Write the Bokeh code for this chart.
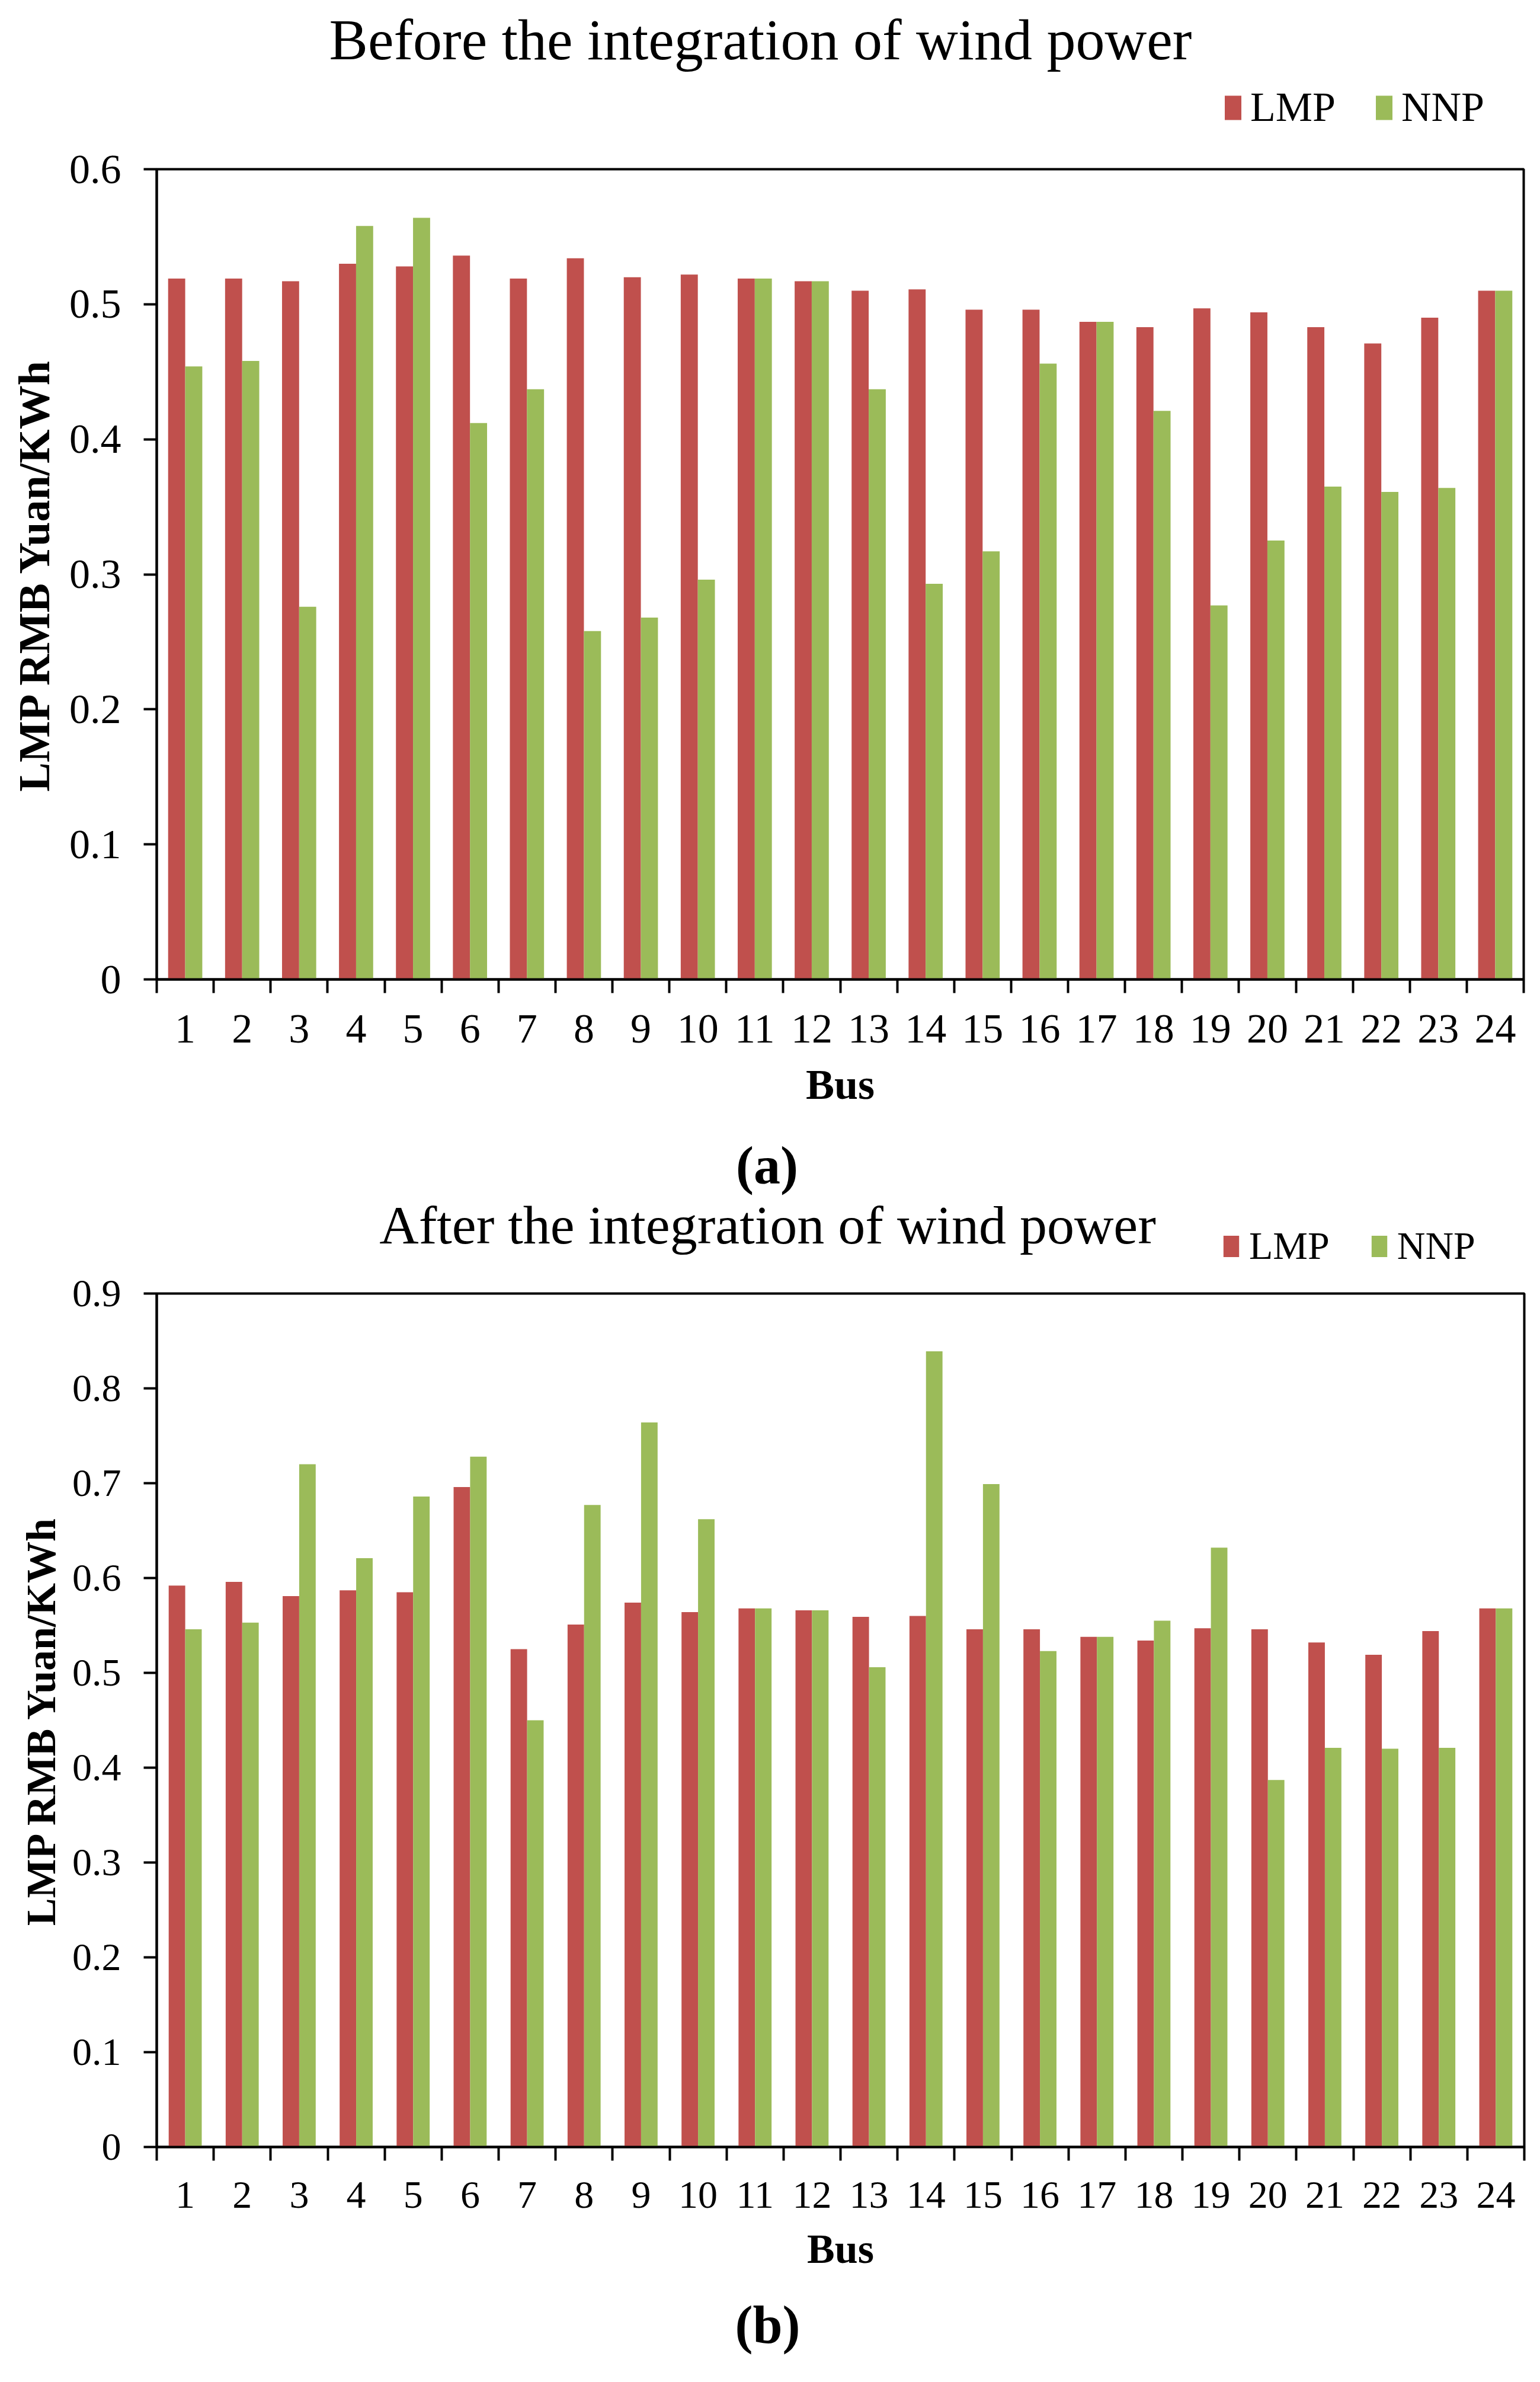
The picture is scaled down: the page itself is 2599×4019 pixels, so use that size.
from bokeh.plotting import figure
from bokeh.models import (Range1d, FixedTicker, Legend, LegendItem,
                          ColumnDataSource, Label)
from bokeh.transform import dodge
from bokeh.layouts import column
from bokeh.embed import file_html
from bokeh.resources import INLINE

# ---------------- data ----------------
buses = list(range(1, 25))

lmp_before = [0.519, 0.519, 0.517, 0.530, 0.528, 0.536, 0.519, 0.534, 0.520, 0.522,
              0.519, 0.517, 0.510, 0.511, 0.496, 0.496, 0.487, 0.483, 0.497, 0.494,
              0.483, 0.471, 0.490, 0.510]
nnp_before = [0.454, 0.458, 0.276, 0.558, 0.564, 0.412, 0.437, 0.258, 0.268, 0.296,
              0.519, 0.517, 0.437, 0.293, 0.317, 0.456, 0.487, 0.421, 0.277, 0.325,
              0.365, 0.361, 0.364, 0.510]

lmp_after = [0.592, 0.596, 0.581, 0.587, 0.585, 0.696, 0.525, 0.551, 0.574, 0.564,
             0.568, 0.566, 0.559, 0.560, 0.546, 0.546, 0.538, 0.534, 0.547, 0.546,
             0.532, 0.519, 0.544, 0.568]
nnp_after = [0.546, 0.553, 0.720, 0.621, 0.686, 0.728, 0.450, 0.677, 0.764, 0.662,
             0.568, 0.566, 0.506, 0.839, 0.699, 0.523, 0.538, 0.555, 0.632, 0.387,
             0.421, 0.420, 0.421, 0.568]

y_ticks_before = [0, 0.1, 0.2, 0.3, 0.4, 0.5, 0.6]
y_labels_before = ["0", "0.1", "0.2", "0.3", "0.4", "0.5", "0.6"]
y_ticks_after = [0, 0.1, 0.2, 0.3, 0.4, 0.5, 0.6, 0.7, 0.8, 0.9]
y_labels_after = ["0", "0.1", "0.2", "0.3", "0.4", "0.5", "0.6", "0.7", "0.8", "0.9"]

series_names = ["LMP", "NNP"]
titles = ["Before the integration of wind power", "After the integration of wind power"]
captions = ["(a)", "(b)"]
x_title = "Bus"
y_title = "LMP RMB Yuan/KWh"

FONT = "Liberation Serif"
RED = "#C0504D"
GREEN = "#9BBB59"
W = 2583


def blank_fig(h):
    f = figure(frame_width=W, frame_height=h, x_range=Range1d(0, 1), y_range=Range1d(0, 1),
               x_axis_location=None, y_axis_location=None,
               output_backend="svg", toolbar_location=None,
               min_border_left=0, min_border_right=0, min_border_top=0, min_border_bottom=0)
    f.xgrid.visible = False
    f.ygrid.visible = False
    f.outline_line_color = None
    f.background_fill_color = "white"
    f.border_fill_color = "white"
    return f


def add_text(f, text, x, y, size, bold=False):
    f.add_layout(Label(x=x, y=y, x_units="canvas", y_units="screen", text=text,
                       text_align="center", text_baseline="middle", text_font=FONT,
                       text_font_size=size, text_font_style="bold" if bold else "normal",
                       text_color="black"))


def make_header(src, h, title, t, caption=None):
    f = blank_fig(h)
    # legend swatches: same series, not drawn, only feeding the legend
    r1 = f.vbar(x="bus", top="lmp", width=0.3, source=src, fill_color=RED,
                line_color=None, visible=False)
    r2 = f.vbar(x="bus", top="nnp", width=0.3, source=src, fill_color=GREEN,
                line_color=None, visible=False)
    legend = Legend(items=[LegendItem(label=series_names[0], renderers=[r1]),
                           LegendItem(label=series_names[1], renderers=[r2])],
                    orientation="horizontal", location=t["leg_loc"],
                    glyph_width=t["glyph_w"], glyph_height=t["glyph_h"],
                    label_text_font=FONT, label_text_font_size=t["leg_fs"],
                    label_text_color="black", label_standoff=t["leg_standoff"],
                    spacing=t["leg_spacing"], padding=0, margin=0,
                    border_line_color=None, background_fill_alpha=0,
                    inactive_fill_alpha=0)
    f.add_layout(legend)
    add_text(f, title, t["title_x"], t["title_y"], t["title_fs"])
    if caption is not None:
        add_text(f, caption[0], caption[1], caption[2], caption[3], bold=True)
    return f


def make_chart(src, yticks, ylabels, ymax, g):
    p = figure(frame_width=g["fw"], frame_height=g["fh"],
               x_range=Range1d(0.5, 24.5), y_range=Range1d(0, ymax),
               output_backend="svg", toolbar_location=None,
               min_border_left=g["left"], min_border_right=g["right"],
               min_border_top=g["top"], min_border_bottom=0)
    p.xgrid.visible = False
    p.ygrid.visible = False
    p.background_fill_color = "white"
    p.border_fill_color = "white"
    p.outline_line_color = "black"
    p.outline_line_width = 4

    bw = g["bw"]
    p.vbar(x=dodge("bus", -bw / 2, range=p.x_range), top="lmp", width=bw,
           source=src, fill_color=RED, line_color=None)
    p.vbar(x=dodge("bus", bw / 2, range=p.x_range), top="nnp", width=bw,
           source=src, fill_color=GREEN, line_color=None)

    ya = p.yaxis[0]
    ya.ticker = FixedTicker(ticks=yticks)
    ya.major_label_overrides = {t: s for t, s in zip(yticks, ylabels)}
    ya.major_tick_out = 22
    ya.major_tick_in = 0
    ya.minor_tick_out = 0
    ya.minor_tick_in = 0
    ya.major_tick_line_width = 4
    ya.axis_line_width = 4
    ya.major_label_standoff = 38
    ya.major_label_text_font = FONT
    ya.major_label_text_font_size = g["tick_fs"]
    ya.major_label_text_color = "black"
    ya.axis_label = y_title
    ya.axis_label_text_font = FONT
    ya.axis_label_text_font_style = "bold"
    ya.axis_label_text_font_size = g["ylab_fs"]
    ya.axis_label_text_color = "black"
    ya.axis_label_standoff = g["ylab_standoff"]

    xa = p.xaxis[0]
    xa.ticker = FixedTicker(ticks=buses, minor_ticks=[b - 0.5 for b in buses] + [buses[-1] + 0.5])
    xa.major_tick_out = 0
    xa.major_tick_in = 0
    xa.minor_tick_out = 23
    xa.minor_tick_in = 0
    xa.minor_tick_line_width = 4
    xa.minor_tick_line_color = "black"
    xa.axis_line_width = 4
    xa.major_label_standoff = g["xlab_standoff"]
    xa.major_label_text_font = FONT
    xa.major_label_text_font_size = g["tick_fs"]
    xa.major_label_text_color = "black"
    xa.axis_label = x_title
    xa.axis_label_text_font = FONT
    xa.axis_label_text_font_style = "bold"
    xa.axis_label_text_font_size = g["xtitle_fs"]
    xa.axis_label_text_color = "black"
    xa.axis_label_standoff = g["xtitle_standoff"]
    return p


src_before = ColumnDataSource(dict(bus=buses, lmp=lmp_before, nnp=nnp_before))
src_after = ColumnDataSource(dict(bus=buses, lmp=lmp_after, nnp=nnp_after))

# header 1: title + legend above chart (a)
t1 = dict(leg_loc=(2063, 24), glyph_w=35, glyph_h=51, leg_fs="70px",
          leg_standoff=12, leg_spacing=64,
          title_x=1283, title_y=179, title_fs="98px")
h1 = make_header(src_before, 245, titles[0], t1)

g1 = dict(fw=2307, fh=1367, left=255, right=21, top=40, bw=0.3,
          tick_fs="70px", ylab_fs="74px", ylab_standoff=15,
          xlab_standoff=37, xtitle_fs="72px", xtitle_standoff=28)
p1 = make_chart(src_before, y_ticks_before, y_labels_before, 0.6, g1)

# header 2: caption (a), title + legend above chart (b)
t2 = dict(leg_loc=(2061, 6), glyph_w=33, glyph_h=45, leg_fs="66px",
          leg_standoff=14, leg_spacing=67,
          title_x=1295, title_y=80, title_fs="92px")
h2 = make_header(src_after, 274, titles[1], t2, caption=(captions[0], 1294, 180, "90px"))

g2 = dict(fw=2308, fh=1440, left=264, right=11, top=36, bw=0.29,
          tick_fs="66px", ylab_fs="70px", ylab_standoff=11,
          xlab_standoff=36, xtitle_fs="70px", xtitle_standoff=28)
p2 = make_chart(src_after, y_ticks_after, y_labels_after, 0.9, g2)

# footer: caption (b)
f3 = blank_fig(150)
add_text(f3, captions[1], 1295, 63, "90px", bold=True)

layout = column(h1, p1, h2, p2, f3, spacing=0)
open("out.html", "w").write(file_html(layout, INLINE))
